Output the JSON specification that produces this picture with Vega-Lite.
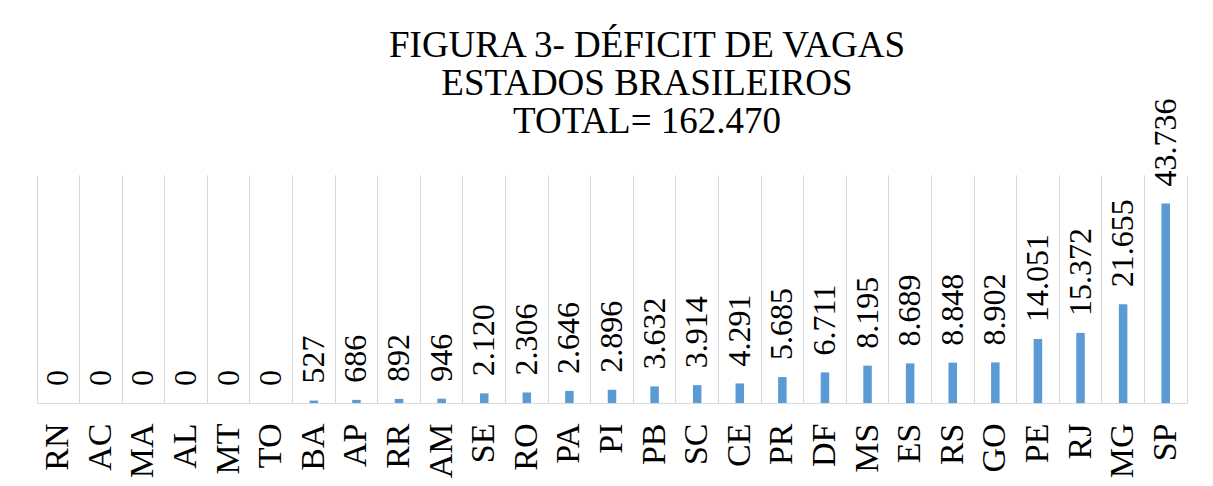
{
  "$schema": "https://vega.github.io/schema/vega-lite/v6.json",
  "width": 1150,
  "height": 228,
  "autosize": {"type": "none"},
  "padding": {"left": 37, "top": 175, "right": 26, "bottom": 83},
  "background": "white",
  "title": {
    "text": ["FIGURA 3- DÉFICIT DE VAGAS", "ESTADOS BRASILEIROS", "TOTAL= 162.470"],
    "font": "Liberation Serif, Times New Roman, serif",
    "fontSize": 37,
    "fontWeight": "normal",
    "color": "#000000",
    "lineHeight": 38,
    "anchor": "middle",
    "frame": "group",
    "dx": 35,
    "offset": -42
  },
  "data": {
    "values": [
      {"estado": "RN", "deficit": 0},
      {"estado": "AC", "deficit": 0},
      {"estado": "MA", "deficit": 0},
      {"estado": "AL", "deficit": 0},
      {"estado": "MT", "deficit": 0},
      {"estado": "TO", "deficit": 0},
      {"estado": "BA", "deficit": 527},
      {"estado": "AP", "deficit": 686},
      {"estado": "RR", "deficit": 892},
      {"estado": "AM", "deficit": 946},
      {"estado": "SE", "deficit": 2120},
      {"estado": "RO", "deficit": 2306},
      {"estado": "PA", "deficit": 2646},
      {"estado": "PI", "deficit": 2896},
      {"estado": "PB", "deficit": 3632},
      {"estado": "SC", "deficit": 3914},
      {"estado": "CE", "deficit": 4291},
      {"estado": "PR", "deficit": 5685},
      {"estado": "DF", "deficit": 6711},
      {"estado": "MS", "deficit": 8195},
      {"estado": "ES", "deficit": 8689},
      {"estado": "RS", "deficit": 8848},
      {"estado": "GO", "deficit": 8902},
      {"estado": "PE", "deficit": 14051},
      {"estado": "RJ", "deficit": 15372},
      {"estado": "MG", "deficit": 21655},
      {"estado": "SP", "deficit": 43736}
    ]
  },
  "layer": [
    {
      "mark": {"type": "bar", "color": "#5B9BD5", "width": {"band": 0.2}},
      "encoding": {
        "x": {
          "field": "estado", "type": "nominal", "sort": null,
          "scale": {"paddingInner": 0, "paddingOuter": 0},
          "axis": {
            "title": null, "orient": "bottom", "labelAngle": -90,
            "labelFont": "Liberation Serif, Times New Roman, serif", "labelFontSize": 34, "labelColor": "#000000",
            "labelPadding": 20, "ticks": false, "domainColor": "#D9D9D9",
            "grid": true, "gridColor": "#D9D9D9", "bandPosition": 0, "labelBound": false
          }
        },
        "y": {
          "field": "deficit", "type": "quantitative",
          "scale": {"domain": [0, 50000]},
          "axis": null
        }
      }
    },
    {
      "mark": {"type": "text", "angle": -90, "align": "left", "baseline": "middle", "dx": 17,
               "font": "Liberation Serif, Times New Roman, serif", "fontSize": 32, "color": "#000000"},
      "encoding": {
        "x": {
          "field": "estado", "type": "nominal", "sort": null,
          "axis": {
            "title": null, "orient": "top", "labels": false, "ticks": false, "domain": false,
            "grid": true, "gridColor": "#D9D9D9", "bandPosition": 1
          }
        },
        "y": {"field": "deficit", "type": "quantitative"},
        "text": {"field": "deficit", "type": "quantitative", "format": ",d"}
      }
    }
  ],
  "resolve": {"axis": {"x": "independent"}},
  "config": {
    "view": {"stroke": null},
    "locale": {
      "number": {"decimal": ",", "thousands": ".", "grouping": [3], "currency": ["R$", ""]}
    }
  }
}
